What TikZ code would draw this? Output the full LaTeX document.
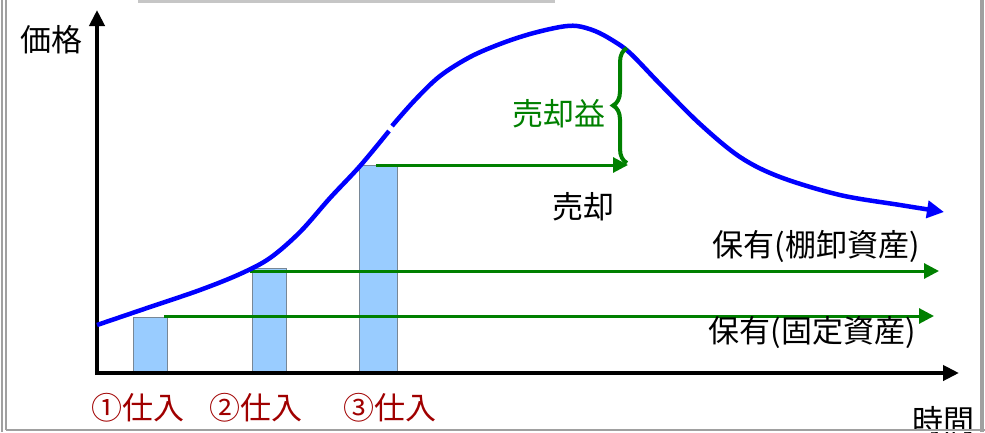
\documentclass[tikz,border=0pt]{standalone}
\usepackage{fontspec}
\newfontfamily\jp{Noto Sans CJK JP}
\usetikzlibrary{arrows.meta,decorations.pathreplacing}
\definecolor{cblue}{RGB}{0,0,255}
\definecolor{cgreen}{RGB}{0,128,0}
\definecolor{cbar}{RGB}{153,204,255}
\definecolor{cbarline}{RGB}{120,135,150}
\definecolor{cred}{RGB}{160,0,0}
\definecolor{cframe}{RGB}{160,160,160}
\tikzset{
  lbl/.style={font=\jp\fontsize{31}{35}\selectfont, inner sep=0pt},
  axis/.style={line width=4pt, -{Triangle[length=16pt,width=15pt]}},
  garrow/.style={cgreen, line width=3pt, -{Triangle[length=15pt,width=15pt]}},
  bar/.style={draw=cbarline, fill=cbar, line width=1.3pt, anchor=south west, inner sep=0pt},
  pcurve/.style={cblue, line width=4.5pt},
  framel/.style={cframe, line width=2pt}
}
\begin{document}
\begin{tikzpicture}[x=1pt,y=-1pt]
\useasboundingbox (0,0) rectangle (985,432);
% bars
\node[bar, minimum width=34pt, minimum height=54pt] (bar1) at (133,372) {};
\node[bar, minimum width=34pt, minimum height=103pt] (bar2) at (252,372) {};
\node[bar, minimum width=38pt, minimum height=206pt] (bar3) at (359,372) {};
% axes
\coordinate (o) at (97,375);
\coordinate (ytip) at (97,10);
\coordinate (xo) at (95,373);
\coordinate (xtip) at (959,373);
\draw[axis] (o) -- (ytip);
\draw[axis] (xo) -- (xtip);
% green holding lines
\coordinate (g1s) at (164,316);
\coordinate (g1e) at (934,316);
\coordinate (g2s) at (250,271);
\coordinate (g2e) at (939,271);
\coordinate (g3s) at (376,165);
\coordinate (g3e) at (628,165);
\draw[garrow] (g1s) -- (g1e);
\draw[garrow] (g2s) -- (g2e);
\draw[garrow] (g3s) -- (g3e);
% price curve
\draw[pcurve] plot[smooth, tension=0.55] coordinates {(97,325) (150,307) (200,290) (240,274) (270,258) (300,232) (330,198) (360,166) (389,131)};
\draw[pcurve, -{Triangle[length=17pt,width=17pt]}] plot[smooth, tension=0.55] coordinates {(392,126) (415,100) (440,76) (470,57) (500,44) (530,34) (560,27) (577,26) (595,31) (612,40) (630,53) (660,84) (700,124) (740,157) (780,177) (840,195) (900,205) (944,212)};
% brace
\coordinate (bb) at (627,163);
\coordinate (bt) at (627,48);
\draw[cgreen, line width=4pt, decorate, decoration={brace, amplitude=14pt}] (bb) -- (bt);
% labels
\node[lbl] (price) at (51,40) {価格};
\node[lbl] (time) at (943,421) {時間};
\node[lbl, cgreen] (gain) at (559,114) {売却益};
\node[lbl] (sale) at (583,207) {売却};
\node[lbl] (hold1) at (816,246) {保有(棚卸資産)};
\node[lbl] (hold2) at (812,333) {保有(固定資産)};
\node[lbl, cred] (p1) at (138,408) {①仕入};
\node[lbl, cred] (p2) at (256,408) {②仕入};
\node[lbl, cred] (p3) at (390,408) {③仕入};
% frame
\fill[white] (0,431) rectangle (985,432);
\draw[framel] (1.5,0) -- (1.5,432);
\draw[framel] (5.5,0) -- (5.5,430);
\draw[framel] (5.5,430) -- (985,430);
\draw[cframe, line width=4pt] (982,0) -- (982,432);
\draw[cframe!60, line width=3pt] (138,1.5) -- (555,1.5);
\end{tikzpicture}
\end{document}
